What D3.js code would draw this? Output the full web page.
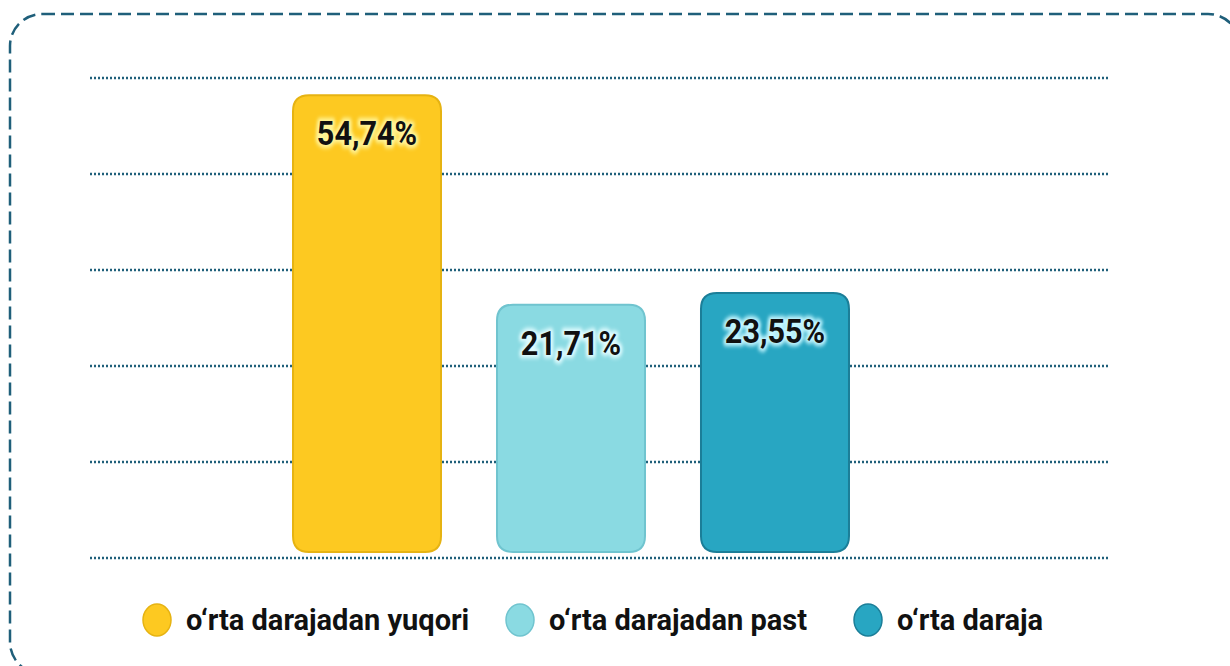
<!DOCTYPE html>
<html>
<head>
<meta charset="utf-8">
<script src="https://cdn.jsdelivr.net/npm/d3@7"></script>
<style>
  body { margin: 0; background: #fff; }
  .grid line { stroke: #1f5f7a; stroke-width: 2.5; stroke-dasharray: 2 2; }
  .label { font-family: Roboto, sans-serif; font-weight: bold; font-size: 34px; }
  .legend text { font-family: Roboto, sans-serif; font-weight: bold; font-size: 29px; fill: #111; }
</style>
</head>
<body>
<div id="container"></div>
<script>
var width = 1230;
var height = 666;

// data
var categories = ["o‘rta darajadan yuqori", "o‘rta darajadan past", "o‘rta daraja"];
var values = [54.74, 21.71, 23.55];
var labels = ["54,74%", "21,71%", "23,55%"];
var gridTicks = [0, 1, 2, 3, 4, 5];

var fills = ["#fdc921", "#8adae2", "#28a6c2"];
var strokes = ["#e6b312", "#70c4cf", "#1b7e98"];
var glows = ["#fff59a", "#e0fcff", "#c4f6ff"];

var svg = d3.select("#container")
  .append("svg")
  .attr("width", width)
  .attr("height", height);

var defs = svg.append("defs");
var f = defs.append("filter").attr("id", "glow")
  .attr("x", "-20%").attr("y", "-30%").attr("width", "140%").attr("height", "160%");
f.append("feGaussianBlur").attr("stdDeviation", 2);

// dashed frame
svg.append("rect")
  .attr("x", 10)
  .attr("y", 14)
  .attr("width", 1230)
  .attr("height", 660)
  .attr("rx", 32)
  .style("fill", "none")
  .style("stroke", "#1f5f7a")
  .style("stroke-width", 2.5)
  .style("stroke-dasharray", "13 6");

var x = d3.scaleBand()
  .domain(categories)
  .range([265, 877])
  .paddingInner(0.2745)
  .paddingOuter(0.1373);

// bar heights in the original are not strictly proportional, offset domain fits them best
var y = d3.scaleLinear()
  .domain([-17.3, 60])
  .range([552, 62]);

var gy = d3.scaleLinear()
  .domain([0, 5])
  .range([558, 78]);

svg.append("g")
  .attr("class", "grid")
  .selectAll("line")
  .data(gridTicks)
  .enter().append("line")
  .attr("x1", 90)
  .attr("x2", 1110)
  .attr("y1", function(d) { return gy(d); })
  .attr("y2", function(d) { return gy(d); });

var bars = svg.append("g")
  .selectAll("g")
  .data(categories)
  .enter().append("g");

bars.append("path")
  .attr("d", function(d, i) {
    var x0 = x(d), w = x.bandwidth(), t = y(values[i]), b = y(-17.3), r = 16;
    return "M" + x0 + "," + (b - r) +
      "V" + (t + r) +
      "Q" + x0 + "," + t + " " + (x0 + r) + "," + t +
      "H" + (x0 + w - r) +
      "Q" + (x0 + w) + "," + t + " " + (x0 + w) + "," + (t + r) +
      "V" + (b - r) +
      "Q" + (x0 + w) + "," + b + " " + (x0 + w - r) + "," + b +
      "H" + (x0 + r) +
      "Q" + x0 + "," + b + " " + x0 + "," + (b - r) + "Z";
  })
  .style("fill", function(d, i) { return fills[i]; })
  .style("stroke", function(d, i) { return strokes[i]; })
  .style("stroke-width", 2);

function labelPos(d, i) {
  return "translate(" + (x(d) + x.bandwidth() / 2) + "," + (y(values[i]) + 50) + ") scale(0.9,1)";
}

bars.append("text")
  .attr("class", "label")
  .attr("transform", labelPos)
  .attr("text-anchor", "middle")
  .attr("filter", "url(#glow)")
  .style("fill", function(d, i) { return glows[i]; })
  .style("stroke", function(d, i) { return glows[i]; })
  .style("stroke-width", 6)
  .style("stroke-linejoin", "round")
  .text(function(d, i) { return labels[i]; });

bars.append("text")
  .attr("class", "label")
  .attr("transform", labelPos)
  .attr("text-anchor", "middle")
  .style("fill", "#111")
  .text(function(d, i) { return labels[i]; });

// legend
var legendX = [157, 520, 868];
var legend = svg.append("g")
  .attr("class", "legend")
  .selectAll("g")
  .data(categories)
  .enter().append("g")
  .attr("transform", function(d, i) { return "translate(" + legendX[i] + ",620)"; });

legend.append("ellipse")
  .attr("rx", 14)
  .attr("ry", 16)
  .style("fill", function(d, i) { return fills[i]; })
  .style("stroke", function(d, i) { return strokes[i]; })
  .style("stroke-width", 1.5);

legend.append("text")
  .attr("x", 29)
  .attr("y", 10)
  .text(function(d) { return d; });
</script>
</body>
</html>
